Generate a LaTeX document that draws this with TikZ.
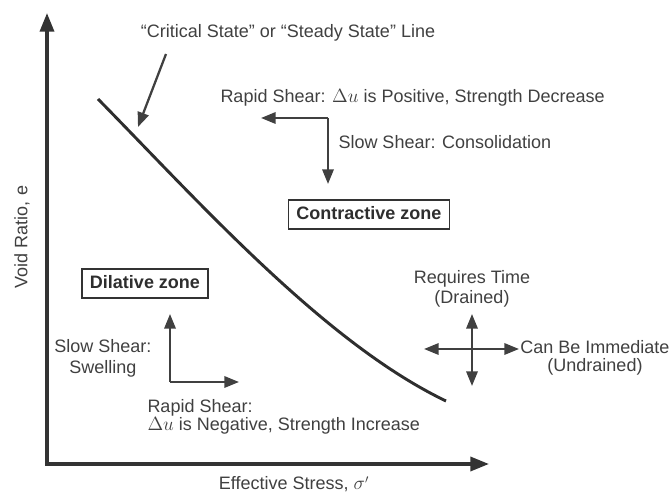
\documentclass[tikz,border=0pt]{standalone}
\usepackage{fontspec}
\setmainfont{Liberation Sans}
\usetikzlibrary{arrows.meta}

\tikzset{every picture/.style={line width=0.75pt}}
\tikzset{
  lbl/.style={inner sep=0.75pt, text=black!75, font=\fontsize{13.5}{15}\selectfont},
  zonebox/.style={draw=black!80, line width=1.4pt, inner xsep=6pt, inner ysep=4.5pt, text height=10pt, text depth=2.5pt, text=black!82, font=\fontsize{13.5}{15}\selectfont\bfseries},
  arr/.style={draw=black!75, line width=1.7pt, -{Triangle[length=11pt,width=8.5pt]}},
  axis/.style={draw=black!80, line width=2.6pt, -{Triangle[length=14pt,width=10.5pt]}},
  csline/.style={draw=black!82, line width=2.2pt}
}

\begin{document}
\begin{tikzpicture}[x=0.75pt,y=0.75pt,yscale=-1,xscale=1]
\path[use as bounding box] (0,0) rectangle (672,495);

%Axes
\coordinate (O) at (47,464);
\coordinate (yTip) at (47,13);
\coordinate (xTip) at (489,464);
\draw [axis] (O) -- (yTip);
\draw [axis] (45,464) -- (xTip);

%Critical state line
\coordinate (csStart) at (98,99);
\coordinate (csEnd) at (446,401);
\draw [csline] (csStart) .. controls (200,203) and (325,343) .. (csEnd);

% Text Node
\node [lbl] (crit) at (288,33) {“Critical State” or “Steady State” Line};
\coordinate (critTail) at (166,54);
\coordinate (critHead) at (138,127);
\draw [arr] (critTail) -- (critHead);

% Text Node
\node [lbl, anchor=west] (rapidPos) at (219,98) {Rapid Shear: $\Delta u$ is Positive, Strength Decrease};
% Text Node
\node [lbl, anchor=west] (slowCon) at (337,142) {Slow Shear: Consolidation};

%Contractive arrows
\coordinate (conCorner) at (328,118);
\coordinate (conLeft) at (261,118);
\coordinate (conDown) at (328,184);
\draw [arr] (conCorner) -- (conLeft);
\draw [arr] (conCorner) -- (conDown);

% Zone boxes
\node [zonebox] (contractive) at (369,214.5) {Contractive zone};
\node [zonebox] (dilative) at (145,283.5) {Dilative zone};

%Dilative arrows
\coordinate (dilCorner) at (170,382);
\coordinate (dilUp) at (170,314);
\coordinate (dilRight) at (239,382);
\draw [arr] (dilCorner) -- (dilUp);
\draw [arr] (dilCorner) -- (dilRight);

% Text Node
\node [lbl, align=center, font=\fontsize{13.5}{15.75}\selectfont] (slowSwell) at (103,358) {Slow Shear:\\Swelling};
% Text Node
\node [lbl, align=left, anchor=west, font=\fontsize{13.5}{13.5}\selectfont] (rapidNeg) at (146,417) {Rapid Shear:\\$\Delta u$ is Negative, Strength Increase};

%Time cross
\coordinate (cross) at (472,349);
\coordinate (crossUp) at (472,314);
\coordinate (crossDown) at (472,386);
\coordinate (crossLeft) at (424,349);
\coordinate (crossRight) at (519,349);
\foreach \tip in {crossUp,crossDown,crossLeft,crossRight}
  \draw [arr] (cross) -- (\tip);

% Text Node
\node [lbl, align=center, font=\fontsize{13.5}{15}\selectfont] (drained) at (472,289) {Requires Time\\(Drained)};
% Text Node
\node [lbl, align=center, font=\fontsize{13.5}{13.5}\selectfont] (undrained) at (595,357.5) {Can Be Immediate\\(Undrained)};

% Axis labels
\node [lbl, anchor=base] (xlabel) at (294,490) {Effective Stress, $\sigma'$};
\node [lbl, rotate=90] (ylabel) at (22,237) {Void Ratio, e};

\end{tikzpicture}
\end{document}
